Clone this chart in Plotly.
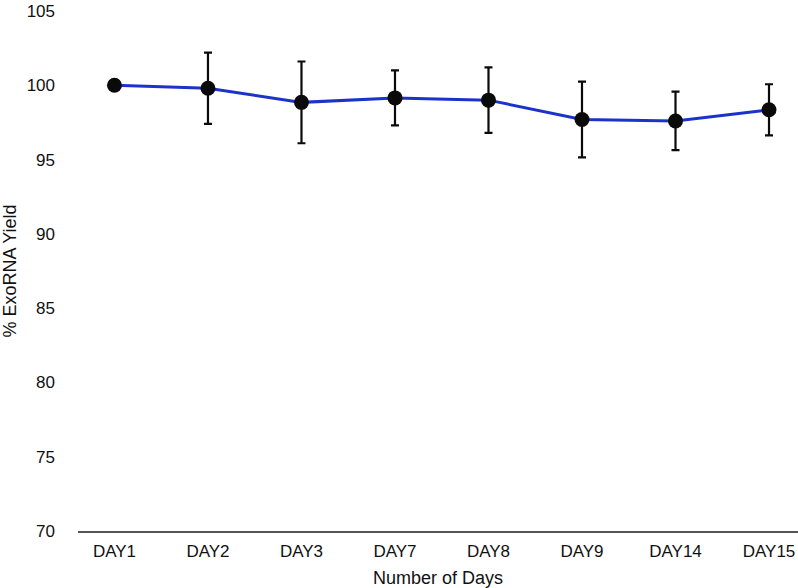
import plotly.graph_objects as go

days = ["DAY1", "DAY2", "DAY3", "DAY7", "DAY8", "DAY9", "DAY14", "DAY15"]
yield_pct = [100.0, 99.8, 98.85, 99.15, 99.0, 97.7, 97.6, 98.35]
err = [0.0, 2.4, 2.75, 1.85, 2.2, 2.55, 1.97, 1.72]
y_ticks = [70, 75, 80, 85, 90, 95, 100, 105]

font_family = "Liberation Sans, Arial, Helvetica, sans-serif"

fig = go.Figure()
fig.add_trace(go.Scatter(
    x=days, y=yield_pct,
    mode="lines+markers",
    line=dict(color="#1c33c9", width=3),
    marker=dict(color="#0a0a0a", size=15),
    error_y=dict(type="data", array=err, visible=True, color="#0a0a0a",
                 thickness=2.2, width=4),
    showlegend=False,
))

fig.update_layout(
    width=798, height=588,
    margin=dict(l=78, r=0, t=11, b=57),
    paper_bgcolor="white", plot_bgcolor="white",
    font=dict(family=font_family, size=17, color="#111111"),
    xaxis=dict(
        type="category", range=[-0.39, 7.31],
        showgrid=False, zeroline=False,
        showline=True, linecolor="#555555", linewidth=2,
        ticks="", ticklabelstandoff=4,
        tickfont=dict(size=17),
        title=dict(text="Number of Days", standoff=11,
                   font=dict(size=18, family=font_family)),
        automargin=False,
    ),
    yaxis=dict(
        range=[70, 105], tickvals=y_ticks,
        showgrid=False, zeroline=False, showline=False,
        ticks="", ticklabelstandoff=22,
        tickfont=dict(size=17),
        title=dict(text="% ExoRNA Yield", standoff=12,
                   font=dict(size=18, family=font_family)),
        automargin=False,
    ),
)

fig.write_html(
    "out.html",
    config={"displayModeBar": False},
    post_script="document.body.style.margin='0';document.body.style.overflow='hidden';",
)
